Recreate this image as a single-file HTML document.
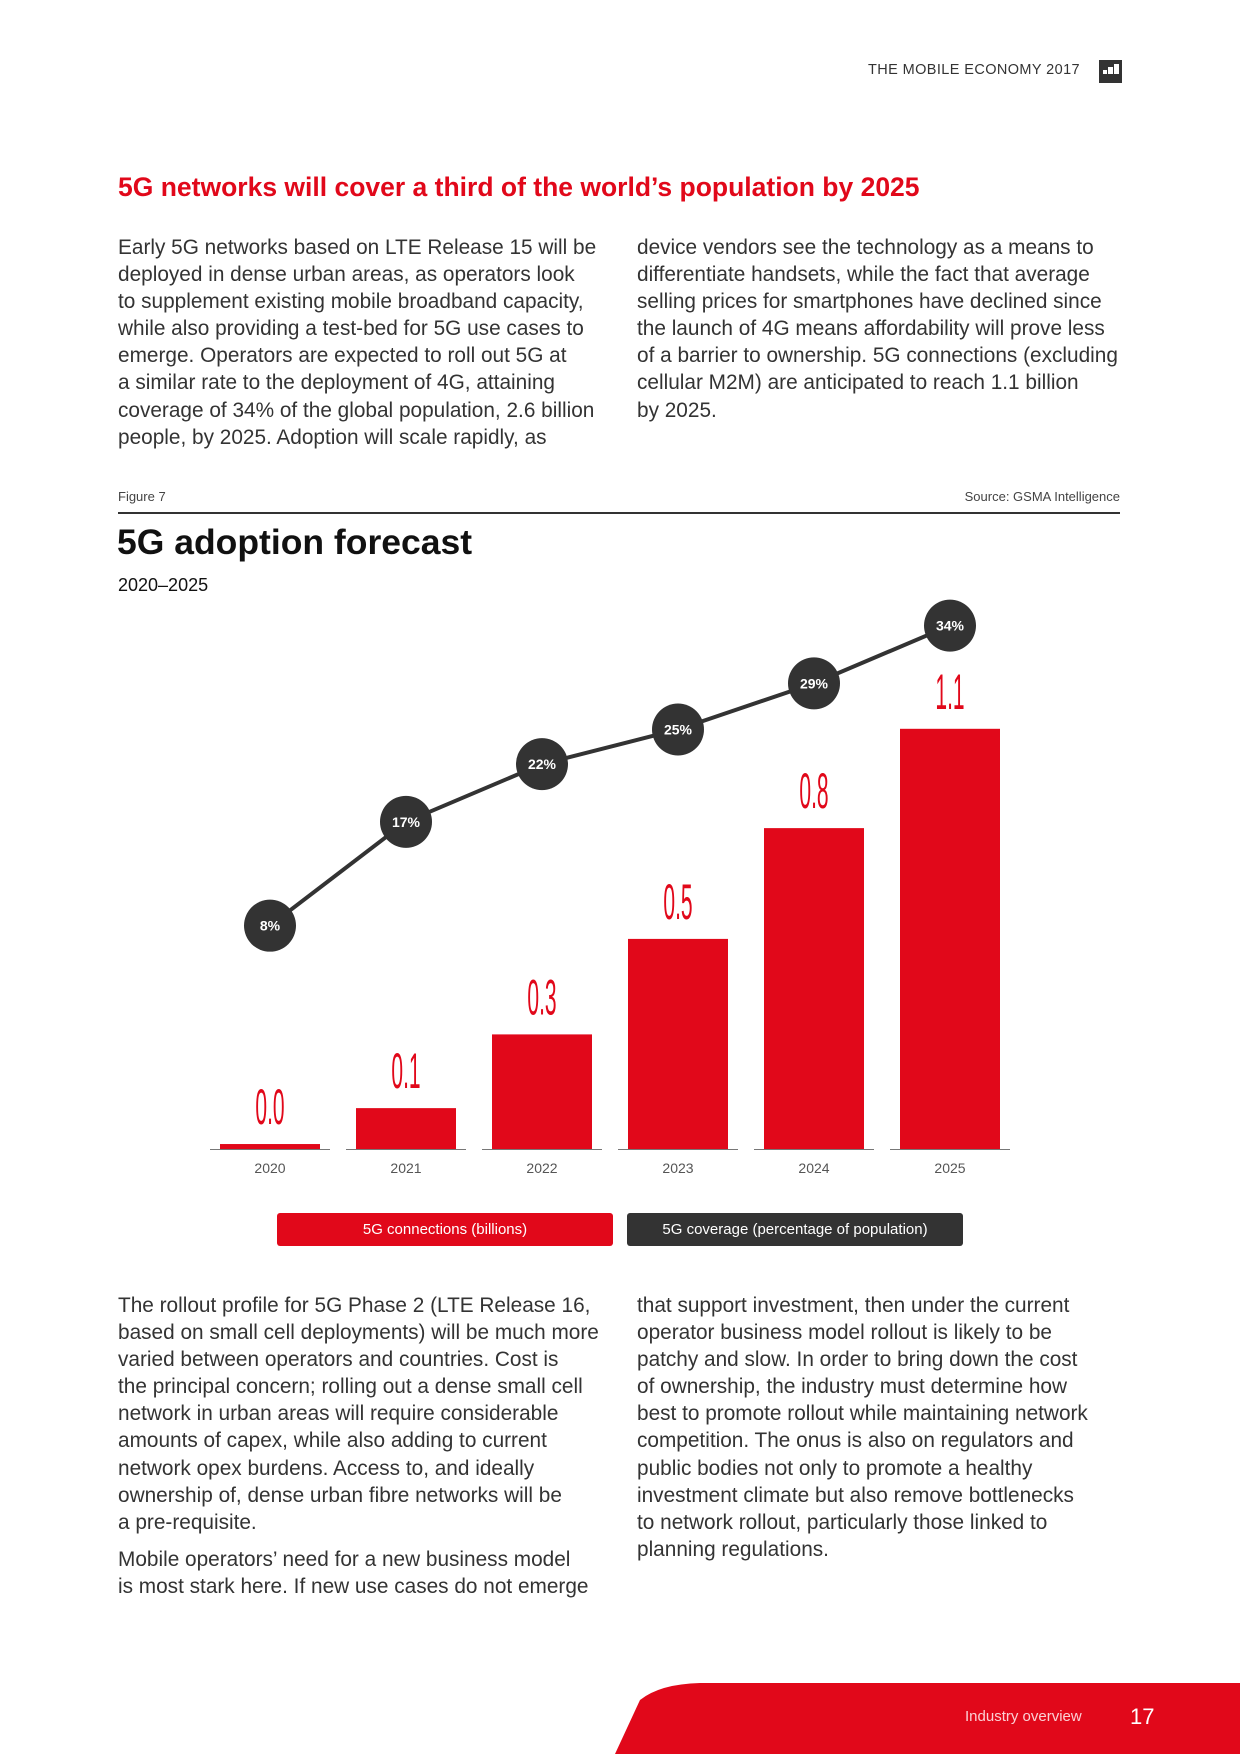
<!DOCTYPE html>
<html><head><meta charset="utf-8">
<style>
body{margin:0;background:#fff;}
#page{position:relative;width:1240px;height:1754px;overflow:hidden;font-family:"Liberation Sans",sans-serif;color:#333;}
.abs{position:absolute;white-space:nowrap;}
.para{position:absolute;font-size:20.8px;line-height:27.1px;color:#333;white-space:nowrap;}
</style></head>
<body><div id="page">
<div class="abs" style="left:868px;top:62px;font-size:14.5px;letter-spacing:0.4px;color:#333;">THE MOBILE ECONOMY 2017</div>
<div class="abs" style="left:1099px;top:60px;width:23px;height:23px;background:#333;">
 <div style="position:absolute;left:4px;top:10px;width:4px;height:4px;background:#fff"></div>
 <div style="position:absolute;left:9px;top:7px;width:5px;height:7px;background:#fff"></div>
 <div style="position:absolute;left:15px;top:4px;width:5px;height:10px;background:#fff"></div>
</div>
<div class="abs" style="left:118px;top:172px;font-size:26.5px;font-weight:bold;color:#e1081a;">5G networks will cover a third of the world’s population by 2025</div>
<div class="para" style="left:118px;top:234px;">Early 5G networks based on LTE Release 15 will be<br>deployed in dense urban areas, as operators look<br>to supplement existing mobile broadband capacity,<br>while also providing a test-bed for 5G use cases to<br>emerge. Operators are expected to roll out 5G at<br>a similar rate to the deployment of 4G, attaining<br>coverage of 34% of the global population, 2.6 billion<br>people, by 2025. Adoption will scale rapidly, as</div>
<div class="para" style="left:637px;top:234px;">device vendors see the technology as a means to<br>differentiate handsets, while the fact that average<br>selling prices for smartphones have declined since<br>the launch of 4G means affordability will prove less<br>of a barrier to ownership. 5G connections (excluding<br>cellular M2M) are anticipated to reach 1.1 billion<br>by 2025.</div>
<div class="abs" style="left:118px;top:489px;font-size:13px;color:#444;">Figure 7</div>
<div class="abs" style="right:120px;top:489px;font-size:13px;color:#444;">Source: GSMA Intelligence</div>
<div class="abs" style="left:118px;top:512px;width:1002px;height:1.5px;background:#333;"></div>
<div class="abs" style="left:117px;top:522px;font-size:35.5px;font-weight:bold;color:#111;">5G adoption forecast</div>
<div class="abs" style="left:118px;top:575px;font-size:18px;color:#111;">2020–2025</div>
<svg id="chart" class="abs" style="left:0;top:0" width="1240" height="1300"></svg>
<div class="abs" style="left:277px;top:1213px;width:336px;height:33px;background:#e1081a;border-radius:3px;color:#fff;font-size:15px;line-height:33px;text-align:center;">5G connections (billions)</div>
<div class="abs" style="left:627px;top:1213px;width:336px;height:33px;background:#333;border-radius:3px;color:#fff;font-size:15px;line-height:33px;text-align:center;">5G coverage (percentage of population)</div>
<div class="para" style="left:118px;top:1292px;">The rollout profile for 5G Phase 2 (LTE Release 16,<br>based on small cell deployments) will be much more<br>varied between operators and countries. Cost is<br>the principal concern; rolling out a dense small cell<br>network in urban areas will require considerable<br>amounts of capex, while also adding to current<br>network opex burdens. Access to, and ideally<br>ownership of, dense urban fibre networks will be<br>a pre-requisite.</div>
<div class="para" style="left:118px;top:1546px;">Mobile operators’ need for a new business model<br>is most stark here. If new use cases do not emerge</div>
<div class="para" style="left:637px;top:1292px;">that support investment, then under the current<br>operator business model rollout is likely to be<br>patchy and slow. In order to bring down the cost<br>of ownership, the industry must determine how<br>best to promote rollout while maintaining network<br>competition. The onus is also on regulators and<br>public bodies not only to promote a healthy<br>investment climate but also remove bottlenecks<br>to network rollout, particularly those linked to<br>planning regulations.</div>
<svg class="abs" style="left:0;top:0" width="1240" height="1754"><path d="M615 1754 L640 1700 Q660 1684 700 1683 L1240 1683 L1240 1754 Z" fill="#e1081a"/></svg>
<div class="abs" style="left:965px;top:1708px;font-size:15px;color:#fbd0d4;">Industry overview</div>
<div class="abs" style="left:1130px;top:1704px;font-size:22px;color:#fff;">17</div>
</div>
<script>
const years=["2020","2021","2022","2023","2024","2025"];
const connections=[0.013,0.107,0.3,0.55,0.84,1.1];
const connectionLabels=["0.0","0.1","0.3","0.5","0.8","1.1"];
const coverage=[8,17,22,25,29,34];
const coverageLabels=["8%","17%","22%","25%","29%","34%"];
const svg=document.getElementById('chart');
const NS='http://www.w3.org/2000/svg';
const base=1149;
function xPos(i){return 270+i*136;}
function yBar(v){return base-v*382;}
function yLine(p){return 1018-p*11.54;}
function mk(t,a){const e=document.createElementNS(NS,t);for(const k in a)e.setAttribute(k,a[k]);svg.appendChild(e);return e;}
years.forEach((y,i)=>{
 const x=xPos(i);
 const bl=mk('line',{x1:x-60,x2:x+60,y1:base+0.5,y2:base+0.5,stroke:'#777','stroke-width':1});
 
 
 const top=yBar(connections[i]);
 const b=mk('rect',{x:x-50,y:top,width:100,height:base-top,fill:'#e1081a'});
 
 
 const vl=mk('text',{x:0,y:0,'font-size':50,fill:'#e1081a','text-anchor':'middle',transform:'translate('+x+','+(top-20)+') scale(0.42,1)'});
 vl.textContent=connectionLabels[i];
 
 
 const yl=mk('text',{x:x,y:base+24,'font-size':14,fill:'#555','text-anchor':'middle'});
 yl.textContent=y;
 
 
});
let d='';
coverage.forEach((p,i)=>{d+=(i?'L':'M')+xPos(i)+' '+yLine(p);});
const ln=mk('path',{d:d,stroke:'#333','stroke-width':4,fill:'none'});


coverage.forEach((p,i)=>{
 const c=mk('circle',{cx:xPos(i),cy:yLine(p),r:26,fill:'#333'});
 
 
 const t=mk('text',{x:xPos(i),y:yLine(p)+5,'font-size':14,'font-weight':'bold',fill:'#fff','text-anchor':'middle'});
 t.textContent=coverageLabels[i];
 
 
});
</script>
</body></html>
